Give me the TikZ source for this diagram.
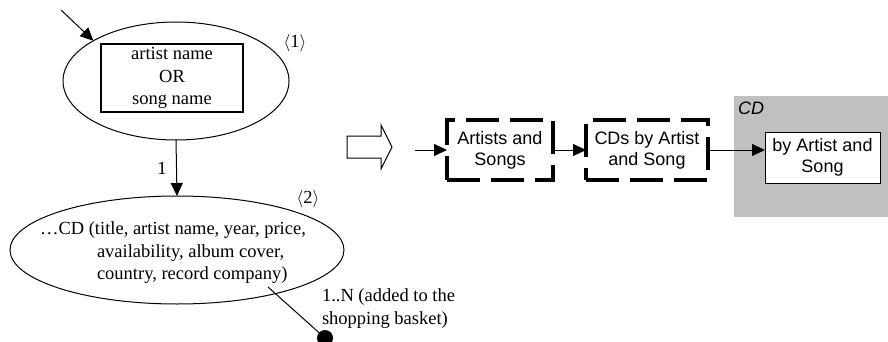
\documentclass[tikz,border=0pt]{standalone}
\usepackage{fontspec}
\setmainfont{Liberation Serif}
\setsansfont{Liberation Sans}
\usetikzlibrary{shapes.geometric,arrows.meta}
\definecolor{cdgray}{RGB}{192,192,192}
\begin{document}
\begin{tikzpicture}[x=1pt,y=-1pt,
  every node/.style={inner sep=0pt, outer sep=0pt},
  ser/.style={font=\fontsize{18.5}{22.5}\selectfont},
  san/.style={font=\sffamily\fontsize{18}{21}\selectfont},
  arr/.style={line width=1pt, -{Triangle[length=13pt,width=12pt]}},
  oval/.style={draw, ellipse, line width=1pt},
  dbox/.style={draw, line width=3.5pt, dash pattern=on 33pt off 11pt, san, align=center},
]
\path[use as bounding box] (0,0) rectangle (888,342);

% left ER part
\node[oval, minimum width=226, minimum height=118] (e1) at (176,81) {};
\node[draw, line width=1.5pt, minimum width=142, minimum height=68, ser, align=center] (r1) at (172,78) {artist name\\OR\\song name};
\coordinate (in) at (61,10);
\draw[arr] (in) -- (e1.154);
\node[ser] (l1) at (295,43) {$\langle$1$\rangle$};

\node[oval, minimum width=334, minimum height=108] (e2) at (177,250) {};
\draw[arr] (e1.south) -- (e2.north);
\node[ser] (n1) at (162,168) {1};
\node[ser] (l2) at (308,199) {$\langle$2$\rangle$};
\node[ser, anchor=west] (t2a) at (40,230) {…CD (title, artist name, year, price,};
\node[ser, anchor=west] (t2b) at (97,253) {availability, album cover,};
\node[ser, anchor=west] (t2c) at (97,275) {country, record company)};

\coordinate (ls) at (268,287);
\node[circle, fill=black, minimum size=16] (dot) at (325,338) {};
\draw[line width=1pt] (ls) -- (dot);
\node[ser, align=left, anchor=west] (mult) at (322,308.5) {1..N (added to the\\shopping basket)};

% hollow arrow
\draw[line width=1pt, line join=miter] (347,136) -- (381,136) -- (381,125) -- (392,147) -- (381,169) -- (381,158) -- (347,158) -- cycle;

% right part
\fill[cdgray] (734,96) rectangle (888,217);
\node[san, font=\sffamily\itshape\fontsize{18}{21}\selectfont, anchor=west] (cd) at (738,108) {CD};
\node[dbox, minimum width=106, minimum height=60] (b1) at (500,150) {Artists and\\Songs};
\node[dbox, minimum width=122, minimum height=60] (b2) at (647,150) {CDs by Artist\\and Song};
\node[draw, fill=white, line width=1pt, minimum width=115, minimum height=51, san, align=center] (b3) at (822.5,157.5) {by Artist and\\Song};
\coordinate (s) at (415,150);
\draw[arr] (s) -- (b1.west);
\draw[arr] (b1.east) -- (b2.west);
\draw[arr] (b2.east) -- (b2.east -| b3.west);
\end{tikzpicture}
\end{document}
